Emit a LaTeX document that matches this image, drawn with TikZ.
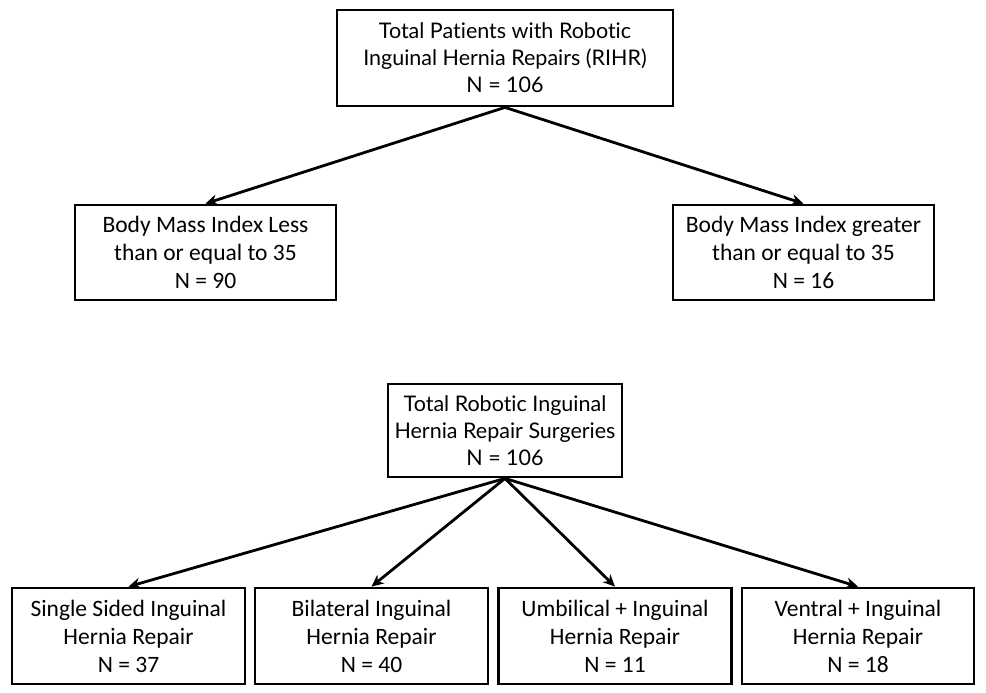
\documentclass[tikz,border=0pt]{standalone}
\usepackage{fontspec}
\setmainfont{Carlito}
\newfontfamily\aptosfont[Ligatures={NoCommon}]{Lato}
\usetikzlibrary{arrows.meta}
\begin{document}
\begin{tikzpicture}[x=1pt,y=-1pt,
  box/.style={draw=black,line width=2.8pt,align=center,inner sep=0pt,
    font={\fontsize{23.5}{28}\selectfont}},
  abox/.style={box,font={\aptosfont\fontsize{21.5}{27}\selectfont}},
  conn/.style={line width=2.8pt,-{Stealth[length=12pt,width=11pt]}}]
\useasboundingbox[fill=white] (0,0) rectangle (986,693);
\node[abox,minimum width=336pt,minimum height=96pt] (top) at (505,58)
  {Total Patients with Robotic\\Inguinal Hernia Repairs (RIHR)\\N = 106};
\node[box,minimum width=261pt,minimum height=95pt] (lbmi) at (205.5,252.5)
  {Body Mass Index Less\\than or equal to 35\\N = 90};
\node[box,minimum width=261pt,minimum height=95pt] (rbmi) at (803.5,252.5)
  {Body Mass Index greater\\than or equal to 35\\N = 16};
\node[abox,minimum width=234pt,minimum height=93pt] (mid) at (505,430.5)
  {Total Robotic Inguinal\\Hernia Repair Surgeries\\N = 106};
\node[box,minimum width=233pt,minimum height=96pt] (b1) at (128.5,636)
  {Single Sided Inguinal\\Hernia Repair\\N = 37};
\node[box,minimum width=233pt,minimum height=96pt] (b2) at (371.5,636)
  {Bilateral Inguinal\\Hernia Repair\\N = 40};
\node[box,minimum width=233pt,minimum height=96pt] (b3) at (615,636)
  {Umbilical + Inguinal\\Hernia Repair\\N = 11};
\node[box,minimum width=232pt,minimum height=96pt] (b4) at (858,636)
  {Ventral + Inguinal\\Hernia Repair\\N = 18};
\draw[conn] (top.south) -- (lbmi.north);
\draw[conn] (top.south) -- (rbmi.north);
\draw[conn] (mid.south) -- (b1.north);
\draw[conn] (mid.south) -- (b2.north);
\draw[conn] (mid.south) -- (b3.north);
\draw[conn] (mid.south) -- (b4.north);
\end{tikzpicture}
\end{document}
